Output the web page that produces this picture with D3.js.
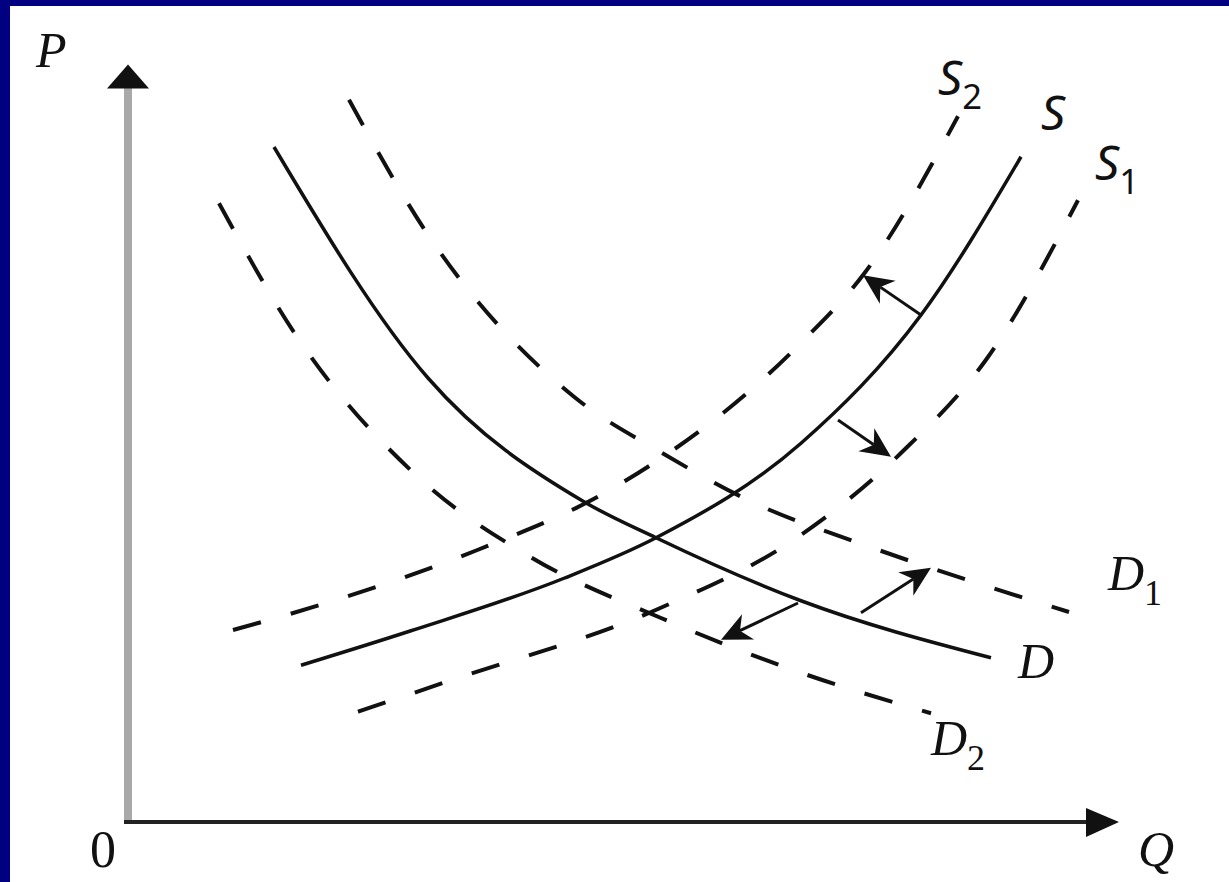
<!DOCTYPE html>
<html>
<head>
<meta charset="utf-8">
<script src="https://cdn.jsdelivr.net/npm/d3@7"></script>
<style>
  html, body { margin: 0; padding: 0; background: #000080; }
  svg { display: block; }
</style>
</head>
<body>
<svg id="chart" width="1229" height="882"></svg>
<script>
// curve points, [Q, P] on a 0-100 scale
const demand   = [[14.6, 90.0], [30.0, 59.2], [45.6, 42.7], [52.8, 37.9], [67.3, 29.5], [86.3, 21.9]];
const demand1  = [[22.1, 96.3], [29.6, 79.1], [44.6, 56.7], [53.3, 49.3], [63.0, 42.3], [73.3, 37.1], [94.1, 28.0]];
const demand2  = [[9.1, 82.5], [16.6, 65.3], [29.0, 46.0], [40.3, 35.3], [53.3, 27.2], [67.3, 19.9], [80.3, 14.5]];
const supply   = [[17.3, 20.9], [28.3, 25.5], [43.6, 32.5], [52.8, 37.9], [67.3, 50.5], [79.3, 67.6], [89.3, 88.7]];
const supply1  = [[23.0, 14.7], [32.3, 18.9], [53.0, 28.4], [67.0, 38.0], [77.3, 49.2], [86.0, 62.0], [95.0, 82.9]];
const supply2  = [[10.5, 25.6], [20.8, 29.6], [35.0, 36.3], [48.5, 44.5], [67.3, 63.9], [73.6, 73.1], [83.0, 94.1]];

// shift arrows: from -> to
const shifts = [
    [[79.3, 67.6], [73.5, 72.9]],
    [[71.0, 53.6], [76.3, 48.7]],
    [[73.3, 27.9], [80.3, 33.9]],
    [[67.0, 29.2], [59.3, 24.3]]
];

const axisMax = { q: 99.1, p: 101 };

const svg = d3.select("#chart");

// white page with the navy frame at top and left
svg.append("rect")
    .attr("x", 10).attr("y", 6)
    .attr("width", 1219).attr("height", 876)
    .attr("fill", "#fff");

const x = d3.scaleLinear().domain([0, 100]).range([128, 1128]);
const y = d3.scaleLinear().domain([0, 100]).range([822, 72]);

const line = d3.line()
    .x(d => x(d[0]))
    .y(d => y(d[1]))
    .curve(d3.curveMonotoneX);

// axes
svg.append("line")
    .attr("x1", x(0)).attr("y1", y(0))
    .attr("x2", x(0)).attr("y2", y(axisMax.p) + 20)
    .attr("stroke", "#a9a9a9")
    .attr("stroke-width", 8);

svg.append("path")
    .attr("d", `M${x(0)},${y(axisMax.p)} L${x(0) - 21},${y(axisMax.p) + 24} L${x(0) + 21},${y(axisMax.p) + 24} Z`)
    .attr("fill", "#111");

svg.append("line")
    .attr("x1", x(0) - 4).attr("y1", y(0))
    .attr("x2", x(axisMax.q) - 30).attr("y2", y(0))
    .attr("stroke", "#222")
    .attr("stroke-width", 4);

svg.append("path")
    .attr("d", `M${x(axisMax.q)},${y(0)} L${x(axisMax.q) - 33},${y(0) - 14} L${x(axisMax.q) - 33},${y(0) + 15} Z`)
    .attr("fill", "#111");

// curves
const curves = [
    { data: demand, dashed: false },
    { data: supply, dashed: false },
    { data: demand1, dashed: true },
    { data: demand2, dashed: true },
    { data: supply1, dashed: true },
    { data: supply2, dashed: true }
];

svg.selectAll("path.curve")
    .data(curves)
    .enter()
    .append("path")
    .attr("class", "curve")
    .attr("d", d => line(d.data))
    .attr("fill", "none")
    .attr("stroke", "#111")
    .attr("stroke-width", d => d.dashed ? 4 : 3.5)
    .attr("stroke-dasharray", d => d.dashed ? "29 31" : null);

// shift arrows
shifts.forEach(s => {
    const x1 = x(s[0][0]), y1 = y(s[0][1]);
    const x2 = x(s[1][0]), y2 = y(s[1][1]);
    const a = Math.atan2(y2 - y1, x2 - x1);
    const len = 30, half = 14;
    const bx = x2 - len * Math.cos(a), by = y2 - len * Math.sin(a);
    const nx = -Math.sin(a), ny = Math.cos(a);
    const ix = x2 - len * 0.7 * Math.cos(a), iy = y2 - len * 0.7 * Math.sin(a);

    svg.append("line")
        .attr("x1", x1).attr("y1", y1)
        .attr("x2", ix).attr("y2", iy)
        .attr("stroke", "#111")
        .attr("stroke-width", 3);

    svg.append("path")
        .attr("d", `M${x2},${y2} L${bx + nx * half},${by + ny * half} L${ix},${iy} L${bx - nx * half},${by - ny * half} Z`)
        .attr("fill", "#111");
});

// labels
const serif = "'Liberation Serif', 'DejaVu Serif', serif";
const sans = "'Noto Sans', 'Open Sans', sans-serif";

function label(px, py, main, sub, font, size, subFont) {
    const t = svg.append("text")
        .attr("x", px).attr("y", py)
        .attr("font-family", font)
        .attr("font-size", size)
        .attr("font-style", "italic")
        .attr("fill", "#111")
        .text(main);
    if (sub) {
        t.append("tspan")
            .attr("font-family", subFont || font)
            .attr("font-style", "normal")
            .attr("font-size", size * 0.72)
            .attr("dy", size * 0.3)
            .text(sub);
    }
}

label(36, 67, "P", null, serif, 50);
label(1138, 866, "Q", null, serif, 50);
svg.append("text")
    .attr("x", 90).attr("y", 867)
    .attr("font-family", serif)
    .attr("font-size", 52)
    .attr("fill", "#111")
    .text("0");

label(938, 95, "S", "2", sans, 48);
label(1041, 130, "S", null, sans, 48);
label(1095, 180, "S", "1", sans, 48);
label(1108, 590, "D", "1", serif, 50);
label(1018, 678, "D", null, serif, 50);
label(931, 755, "D", "2", serif, 50);
</script>
</body>
</html>
